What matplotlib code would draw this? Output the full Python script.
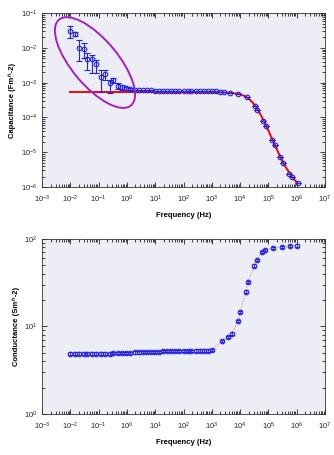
import numpy as np
import matplotlib
matplotlib.use("Agg")
from matplotlib import pyplot as plt
from matplotlib.patches import Ellipse
from matplotlib.transforms import Affine2D, ScaledTranslation

plt.rcParams['font.family'] = ['Liberation Sans', 'DejaVu Sans']
plt.rcParams['mathtext.fontset'] = 'custom'
plt.rcParams['mathtext.rm'] = 'Liberation Sans'
plt.rcParams['mathtext.it'] = 'Liberation Sans'

# capacitance data (top panel)
cap_freq = [0.0097, 0.015, 0.021, 0.030, 0.040, 0.058, 0.081, 0.118, 0.163, 0.25, 0.31, 0.48, 0.67, 0.93, 1.3,
            1.9, 2.7, 3.7, 5.2, 7.2, 10, 14, 19, 27, 37, 52, 72, 100, 140, 190, 270, 370, 520, 720,
            1000, 1400, 1900, 2700,
            4400, 8700, 17000, 34000, 41000, 66000, 79000, 1.38e5, 1.7e5, 2.6e5, 3.2e5, 5.5e5, 6.6e5, 1.1e6]
cap_val = [3.0e-2, 2.5e-2, 1.0e-2, 9.6e-3, 4.7e-3, 4.7e-3, 3.4e-3, 1.5e-3, 1.8e-3, 1.0e-3, 1.2e-3, 8.0e-4, 7.3e-4, 6.9e-4, 6.5e-4,
           6.3e-4, 6.2e-4, 6.1e-4, 6.0e-4, 6.0e-4, 5.9e-4, 5.9e-4, 5.9e-4, 5.8e-4, 5.8e-4, 5.8e-4, 5.8e-4, 5.8e-4, 5.7e-4, 5.7e-4,
           5.7e-4, 5.7e-4, 5.6e-4, 5.6e-4, 5.6e-4, 5.6e-4, 5.5e-4, 5.5e-4,
           5.1e-4, 4.7e-4, 3.8e-4, 2.1e-4, 1.6e-4, 8.1e-5, 5.7e-5, 2.3e-5, 1.6e-5, 7.1e-6, 5.0e-6, 2.4e-6, 2.0e-6, 1.3e-6]
# error bar bounds for the low-frequency points
cap_lo = [1.96e-2, 2.2e-2, 4.3e-3, 5.0e-3, 2.3e-3, 1.9e-3, 1.9e-3, 5.5e-4, 1.2e-3, 4.9e-4, 9.5e-4, 6.5e-4, 6.3e-4, 6.2e-4, 6.0e-4]
cap_hi = [4.2e-2, 2.8e-2, 1.7e-2, 1.35e-2, 7.2e-3, 6.2e-3, 4.5e-3, 2.3e-3, 2.4e-3, 1.2e-3, 1.4e-3, 9.5e-4, 8.5e-4, 7.6e-4, 7.0e-4]

# fitted curve (red)
fit_freq = [0.0097, 100, 1000, 3000, 6000, 1e4, 1.5e4, 2e4, 3e4, 4e4, 6e4, 8e4, 1.2e5, 1.7e5, 2.5e5, 3.5e5, 5e5, 7e5, 1.1e6]
fit_val = [5.4e-4, 5.4e-4, 5.35e-4, 5.2e-4, 5.0e-4, 4.6e-4, 4.1e-4, 3.5e-4, 2.5e-4, 1.8e-4, 1.0e-4, 6.2e-5, 3.0e-5,
           1.6e-5, 8e-6, 4.6e-6, 2.9e-6, 1.9e-6, 1.25e-6]

# conductance data (bottom panel)
cond_freq = [0.01, 0.015, 0.021, 0.03, 0.04, 0.058, 0.081, 0.118, 0.163, 0.25, 0.31, 0.48, 0.67, 0.93, 1.3,
             1.9, 2.7, 3.7, 5.2, 7.2, 10, 14, 19, 27, 37, 52, 72, 100, 140, 190, 270, 370, 520, 720, 1000,
             2240, 3800, 5000, 8700, 1.0e4, 1.6e4, 1.86e4, 3.2e4, 3.8e4, 6.0e4, 7.6e4, 1.5e5, 3.0e5, 5.8e5, 1.0e6]
cond_val = [4.9, 4.9, 4.9, 4.9, 4.9, 4.9, 4.9, 4.9, 4.9, 4.9, 4.95, 4.95, 5.0, 5.0, 5.0,
            5.05, 5.05, 5.1, 5.1, 5.1, 5.15, 5.15, 5.2, 5.2, 5.2, 5.2, 5.2, 5.25, 5.25, 5.25, 5.3, 5.3, 5.3, 5.3, 5.4,
            6.8, 7.6, 8.3, 11.6, 14.5, 25, 32, 49.5, 57.5, 70.5, 74.8, 79.4, 81, 82.6, 83.8]

blue = '#2323e6'
bg = '#ededf5'

fig = plt.figure(figsize=(3.34, 4.55), dpi=100)
ax1 = fig.add_axes([0.126, 0.589, 0.847, 0.382])
ax2 = fig.add_axes([0.126, 0.090, 0.847, 0.385])

cv = np.array(cap_val)
lo = np.array(cap_lo + cap_val[len(cap_lo):])
hi = np.array(cap_hi + cap_val[len(cap_hi):])
ax1.plot(fit_freq, fit_val, color='red', lw=1.4, zorder=2)
ax1.errorbar(cap_freq, cv, yerr=[cv - lo, hi - cv], fmt='o', ms=3.3, mfc='none', mec=blue, mew=0.8,
             ecolor=blue, elinewidth=0.8, capsize=2, capthick=0.8, zorder=3)

# highlight ellipse drawn in pixels around the low-frequency points
ell_tr = Affine2D() + ScaledTranslation(0.187, 0.716, ax1.transAxes)
ax1.add_patch(Ellipse((0, 0), 112, 46, angle=-50, fill=False, ec='#a51fc4', lw=1.4, transform=ell_tr, zorder=4))

ax1.set_ylim(1e-6, 1e-1)
ax1.set_ylabel('Capacitance (Fm^-2)', fontsize=5.5, fontweight='bold', labelpad=3)

gv = np.array(cond_val)
ax2.plot(cond_freq, cond_val, ls=(0, (2, 1.5)), color='#d89090', lw=0.6, zorder=2)
ax2.errorbar(cond_freq, gv, yerr=gv * 0.03, fmt='o', ms=3.3, mfc='none', mec=blue, mew=0.8,
             ecolor=blue, elinewidth=0.6, capsize=1.5, capthick=0.6, zorder=3)
ax2.set_ylim(1, 100)
ax2.set_ylabel('Conductance (Sm^-2)', fontsize=5.5, fontweight='bold', labelpad=3)

for ax in (ax1, ax2):
    ax.set_facecolor(bg)
    ax.set_xscale('log')
    ax.set_yscale('log')
    ax.set_xlim(1e-3, 1e7)
    ax.set_xticks([10.0 ** k for k in range(-3, 8)])
    ax.xaxis.set_minor_locator(matplotlib.ticker.LogLocator(base=10, subs=np.arange(2, 10), numticks=20))
    ax.yaxis.set_minor_locator(matplotlib.ticker.LogLocator(base=10, subs=np.arange(2, 10), numticks=20))
    ax.xaxis.set_minor_formatter(matplotlib.ticker.NullFormatter())
    ax.yaxis.set_minor_formatter(matplotlib.ticker.NullFormatter())
    ax.tick_params(which='both', direction='in', top=True, right=True, labelsize=5.5, width=0.6, colors='#222222')
    ax.tick_params(which='major', length=3.5)
    ax.tick_params(which='minor', length=2)
    ax.tick_params(axis='x', pad=5)
    ax.set_xlabel('Frequency (Hz)', fontsize=5.5, fontweight='bold', labelpad=5)
    for s in ax.spines.values():
        s.set_linewidth(0.6)
        s.set_color('#333333')

fig.savefig('out.png', dpi=100)
